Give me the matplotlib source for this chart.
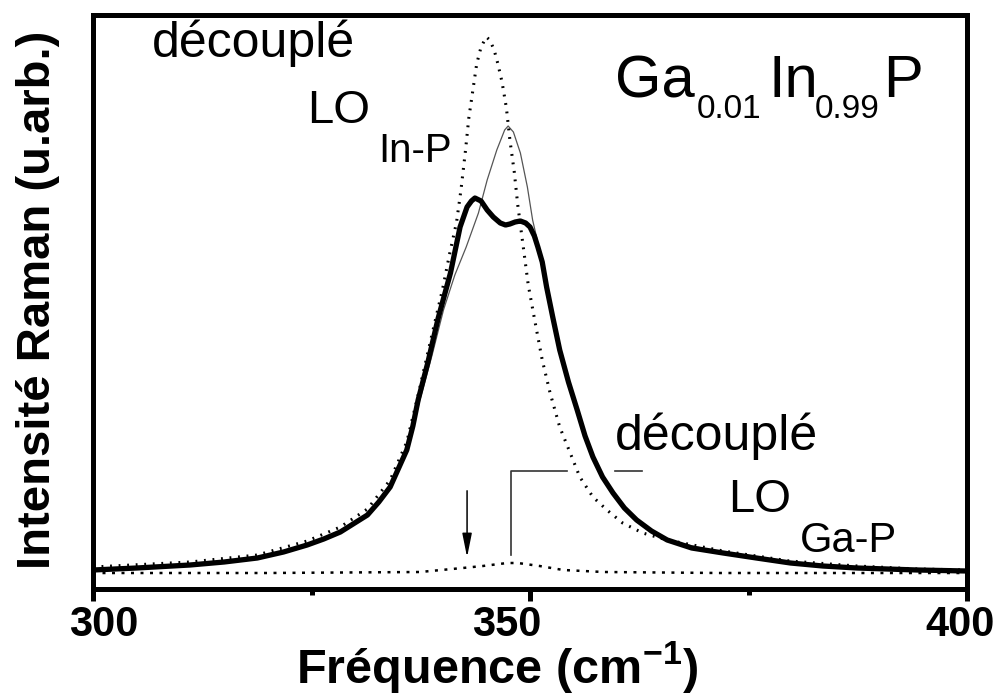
import matplotlib
matplotlib.use("Agg")
import matplotlib.pyplot as plt
from matplotlib.transforms import ScaledTranslation

plt.rcParams['font.family'] = ['Liberation Sans', 'DejaVu Sans']
plt.rcParams['mathtext.fontset'] = 'custom'
plt.rcParams['mathtext.rm'] = 'Liberation Sans'
plt.rcParams['mathtext.bf'] = 'Liberation Sans:bold'

# spectre mesuré (trait épais)
x_mes = [300.0, 305.0, 311.1, 315.0, 318.8, 321.8, 324.5, 326.4, 328.3, 331.4,
         332.7, 334.0, 335.9, 336.6, 337.2, 338.3, 339.5, 340.9, 342.0, 342.8,
         343.3, 343.7, 344.4, 345.1, 345.8, 346.6, 347.2, 347.7, 348.3, 348.9,
         349.5, 350.0, 350.5, 350.9, 351.4, 351.9, 352.6, 353.4, 354.4, 355.4,
         356.3, 357.2, 358.3, 359.5, 360.8, 362.2, 363.9, 365.7, 368.5, 372.1,
         375.9, 379.8, 383.5, 387.4, 394.3, 400.0]
y_mes = [19, 21, 24, 27, 31, 37, 44, 50, 57, 74,
         87, 102, 139, 163, 189, 226, 271, 316, 362, 382,
         388, 391, 388, 379, 372, 366, 364, 365, 367, 368,
         366, 362, 353, 342, 327, 302, 272, 239, 207, 179,
         153, 132, 112, 96, 81, 69, 58, 49, 41, 36,
         31, 26, 23, 21, 19, 18]

# spectre calculé (trait fin)
x_calc = [300.0, 311.1, 318.8, 324.5, 328.3, 331.4, 334.0, 335.9, 337.4, 338.8,
          340.1, 341.4, 342.7, 344.1, 345.1, 346.2, 347.1, 347.5, 348.1, 348.9,
          349.7, 350.3, 350.8, 351.9, 353.4, 355.4, 357.2, 359.5, 362.2, 365.7,
          372.1, 379.8, 387.4, 394.3, 400.0]
y_calc = [19, 24, 31, 44, 57, 74, 101, 137, 189, 234,
          279, 314, 342, 376, 409, 439, 459, 463, 457, 436,
          402, 369, 350, 301, 241, 179, 132, 96, 69, 49,
          36, 26, 21, 18, 17]

# mode LO In-P découplé (pointillés)
x_inp = [300.0, 311.1, 318.8, 324.5, 328.3, 331.4, 334.0, 335.9, 337.2, 338.8,
         340.0, 340.8, 341.6, 342.1, 342.6, 343.0, 343.5, 343.9, 344.4, 345.0,
         345.4, 345.9, 346.3, 346.8, 347.3, 347.7, 348.2, 348.6, 349.2, 349.8,
         350.6, 351.4, 352.3, 353.4, 354.6, 355.7, 357.2, 358.8, 360.6, 362.9,
         365.7, 372.1, 379.7, 387.4, 394.3, 400.0]
y_inp = [22, 27, 34, 48, 62, 80, 109, 147, 194, 255,
         300, 335, 367, 399, 437, 471, 501, 525, 542, 552,
         549, 539, 526, 507, 481, 449, 417, 384, 344, 304,
         266, 229, 196, 162, 136, 112, 92, 79, 66, 56,
         49, 38, 28, 23, 20, 19]

# mode LO Ga-P découplé (pointillés, petit pic)
x_gap = [300.0, 320.0, 337.4, 342.3, 344.6, 347.4, 348.6, 351.1, 353.8, 358.4,
         365.0, 371.7, 385.0, 400.0]
y_gap = [16, 16, 17, 21, 23, 26, 26, 23, 19, 17,
         16.5, 16, 16, 16]

# repères : flèche et crochet
x_fleche, y_fleche_haut, y_fleche_bas = 342.8, 101, 29
x_crochet, y_crochet_bas, y_crochet_haut = 347.8, 34, 118
x_trait1 = (347.8, 354.2)
x_trait2 = (359.7, 362.8)

W, H = 998, 695
fig = plt.figure(figsize=(W / 100, H / 100), dpi=100)
ax = fig.add_axes([93 / W, 1 - 589 / H, (967 - 93) / W, (589 - 15) / H])

dots = (0, (0.6, 2.2))
ax.plot(x_calc, y_calc, color='#555555', lw=0.9, zorder=2)
ax.plot(x_mes, y_mes, color='black', lw=3.8, solid_joinstyle='round', zorder=3)
ax.plot(x_inp, y_inp, color='black', lw=2.2, linestyle=dots, zorder=4)
ax.plot(x_gap, y_gap, color='black', lw=1.8, linestyle=(0, (1.2, 2.6)), zorder=4)

# crochet LO Ga-P
ax.plot([x_crochet, x_crochet, x_trait1[1]],
        [y_crochet_bas, y_crochet_haut, y_crochet_haut],
        color='#333333', lw=1.2, zorder=2)
ax.plot(x_trait2, [y_crochet_haut, y_crochet_haut], color='#333333', lw=1.2, zorder=2)

ax.annotate('', xy=(x_fleche, y_fleche_bas), xytext=(x_fleche, y_fleche_haut),
            arrowprops=dict(arrowstyle='-|>,head_width=0.18,head_length=0.9',
                            color='black', lw=1.1, mutation_scale=16))

ax.set_xlim(300, 400)
ax.set_ylim(0, 574)
ax.set_xticks([300, 350, 400])
ax.set_xticks([325, 375], minor=True)
ax.set_xticklabels(['300', '350', '400'], fontsize=30, fontweight='bold')
ax.set_yticks([])
ax.tick_params(axis='x', which='major', direction='out', length=8.5, width=3.6, pad=3)
ax.tick_params(axis='x', which='minor', direction='out', length=4.5, width=3.6)
for sp in ax.spines.values():
    sp.set_linewidth(3.6)

# décalage horizontal des étiquettes (en pixels)
for lab, dx in zip(ax.get_xticklabels(), [11, -23, -7]):
    lab.set_transform(lab.get_transform() + ScaledTranslation(dx / 100, 0, fig.dpi_scale_trans))

def fpos(xp, yp):
    return xp / W, 1 - yp / H

fig.text(*fpos(497, 683), r'Fréquence (cm$^{\mathbf{-1}}$)', fontsize=35,
         fontweight='bold', ha='center', va='baseline')
fig.text(*fpos(38, 300), 'Intensité Raman (u.arb.)', fontsize=34,
         fontweight='bold', rotation=90, ha='center', va='center')

# annotations
fig.text(*fpos(152, 57), 'découplé', fontsize=36, ha='left', va='baseline')
fig.text(*fpos(307, 123), 'LO', fontsize=34, ha='left', va='baseline')
fig.text(*fpos(378, 162), 'In-P', fontsize=29, ha='left', va='baseline')

fig.text(*fpos(615, 450), 'découplé', fontsize=36, ha='left', va='baseline')
fig.text(*fpos(728, 512), 'LO', fontsize=34, ha='left', va='baseline')
fig.text(*fpos(800, 552), 'Ga-P', fontsize=30, ha='left', va='baseline')

# formule Ga0.01In0.99P
fig.text(*fpos(615, 97), 'Ga', fontsize=43, ha='left', va='baseline')
fig.text(*fpos(697, 118), '0.01', fontsize=24, ha='left', va='baseline')
fig.text(*fpos(768, 97), 'In', fontsize=43, ha='left', va='baseline')
fig.text(*fpos(815, 118), '0.99', fontsize=24, ha='left', va='baseline')
fig.text(*fpos(883, 97), 'P', fontsize=43, ha='left', va='baseline')

fig.savefig('out.png', dpi=100)
